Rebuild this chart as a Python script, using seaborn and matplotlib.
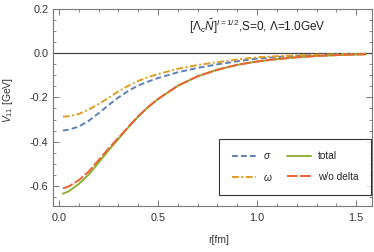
import numpy as np
import pandas as pd
import matplotlib
matplotlib.use("Agg")
import matplotlib.pyplot as plt
from matplotlib.lines import Line2D
from matplotlib.ticker import MultipleLocator, FormatStrFormatter
import seaborn as sns

# Data (r in fm, V in GeV)
r = [0.02, 0.05, 0.1, 0.15, 0.2, 0.25, 0.3, 0.35, 0.4, 0.45, 0.5, 0.6, 0.7, 0.8, 0.9,
     1.0, 1.1, 1.2, 1.3, 1.4, 1.55]
v_sigma = [-0.350, -0.346, -0.332, -0.306, -0.272, -0.235, -0.200, -0.170, -0.146, -0.128,
           -0.112, -0.086, -0.066, -0.050, -0.036, -0.024, -0.017, -0.011, -0.008, -0.005,
           -0.003]
v_omega = [-0.287, -0.285, -0.275, -0.255, -0.230, -0.202, -0.172, -0.147, -0.125, -0.108,
           -0.094, -0.070, -0.053, -0.040, -0.028, -0.018, -0.013, -0.009, -0.006, -0.004,
           -0.002]
v_total = [-0.636, -0.625, -0.592, -0.550, -0.496, -0.440, -0.388, -0.336, -0.287, -0.244,
           -0.207, -0.147, -0.104, -0.074, -0.052, -0.037, -0.026, -0.018, -0.012, -0.008,
           -0.004]
v_nodelta = [-0.612, -0.603, -0.575, -0.536, -0.484, -0.432, -0.383, -0.333, -0.285, -0.243,
             -0.207, -0.147, -0.104, -0.074, -0.052, -0.037, -0.026, -0.018, -0.012, -0.008,
             -0.004]

labels = [r"$\sigma$", r"$\omega$", "total", "w/o delta"]
colors = ["#5E81B5", "#E19C24", "#8FB032", "#EB6235"]
dashes = [(3.0, 1.6), (3.5, 1.3, 1.0, 1.3), None, (5.5, 1.2)]

sns.set_style("ticks")
plt.rcParams["font.family"] = ["Liberation Sans", "DejaVu Sans"]
plt.rcParams["mathtext.fontset"] = "custom"
plt.rcParams["mathtext.rm"] = "Liberation Sans"
plt.rcParams["mathtext.it"] = "Liberation Sans:italic"

fig = plt.figure(figsize=(3.74, 2.52), dpi=100)
ax = fig.add_axes([53 / 374, 46 / 252, 319 / 374, 197 / 252])

ax.axhline(0, color="#444444", lw=0.9, zorder=1)

df = pd.DataFrame({"r": r, "sigma": v_sigma, "omega": v_omega,
                   "total": v_total, "nodelta": v_nodelta})
order = ["sigma", "omega", "total", "nodelta"]
handles = []
for key, c, d, lab in zip(order, colors, dashes, labels):
    sns.lineplot(data=df, x="r", y=key, ax=ax, color=c, lw=1.4, zorder=3)
    ln = ax.lines[-1]
    if d is not None:
        ln.set_dashes(d)
    h = Line2D([], [], color=c, lw=1.4)
    if d is not None:
        h.set_dashes(d)
    handles.append(h)

ax.set_xlim(-0.03, 1.58)
ax.set_ylim(-0.692, 0.201)
ax.xaxis.set_major_locator(MultipleLocator(0.5))
ax.xaxis.set_minor_locator(MultipleLocator(0.1))
ax.yaxis.set_major_locator(MultipleLocator(0.2))
ax.yaxis.set_minor_locator(MultipleLocator(0.05))
ax.xaxis.set_major_formatter(FormatStrFormatter("%.1f"))
ax.yaxis.set_major_formatter(FormatStrFormatter("%.1f"))
ax.tick_params(which="both", direction="in", top=True, right=True,
               color="#777777", labelcolor="#333333", labelsize=7.8)
ax.tick_params(which="major", length=4, width=0.7)
ax.tick_params(which="minor", length=2.2, width=0.6)
ax.tick_params(axis="x", pad=5)
for s in ax.spines.values():
    s.set_color("#777777")
    s.set_linewidth(0.8)

ax.set_xlabel("r[fm]", fontsize=7.5, color="#333333")
ax.set_ylabel(r"$V_{11}$ [GeV]", fontsize=7.5, color="#333333")
ax.xaxis.set_label_coords(0.52, -0.145)
ax.yaxis.set_label_coords(-0.12, 0.54)

fig.text(189 / 374, 1 - 27 / 252, r"$[\Lambda_c\bar{N}]^{I=1/2}$,S=0, Λ=1.0GeV",
         fontsize=8.5, color="#222222", va="center", ha="left")

leg = ax.legend(handles, labels, ncol=2, loc="lower right",
                bbox_to_anchor=(0.997, 0.055), fontsize=7.3, frameon=True,
                fancybox=False, edgecolor="black", handlelength=2.4,
                columnspacing=1.4, borderpad=1.2, labelspacing=1.05,
                handletextpad=0.7, borderaxespad=0.0)
leg.get_frame().set_linewidth(0.8)

fig.savefig("out.png", dpi=100)
